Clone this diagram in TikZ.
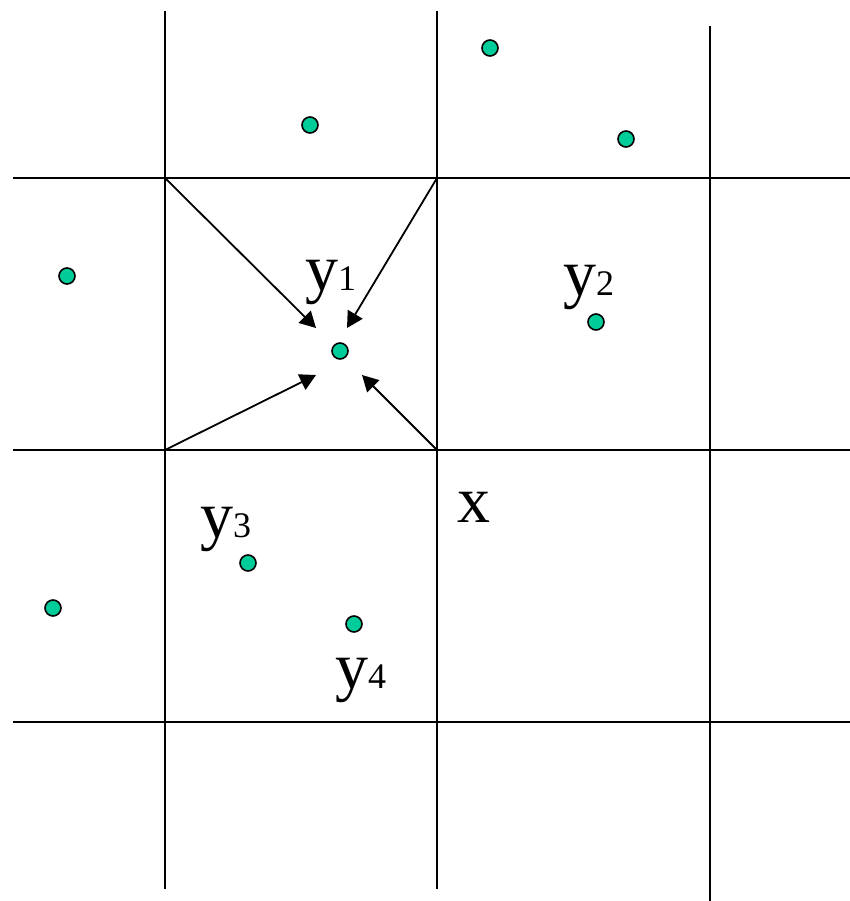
\documentclass[tikz,border=0pt]{standalone}
\usepackage{fontspec}
\setmainfont{Liberation Serif}
\usepackage{xcolor}
\usetikzlibrary{arrows.meta}

\definecolor{pointgreen}{RGB}{0,204,153}
\newcommand{\ylab}[1]{{\fontsize{66}{66}\selectfont y}{\fontsize{36}{36}\selectfont #1}}

\tikzset{
  gridline/.style={line width=2.4pt},
  pt/.style={circle, draw=black, line width=1.6pt, fill=pointgreen, minimum size=16pt, inner sep=0pt},
  lab/.style={anchor=base west, inner sep=0pt},
  pull/.style={line width=1.8pt, -{Triangle[length=16pt,width=17pt]}}
}

\begin{document}
\begin{tikzpicture}[x=1pt, y=-1pt]
	\useasboundingbox (0,0) rectangle (850,901);
	
	% grid
	\draw[gridline] (165,11) -- (165,889);
	\draw[gridline] (437,11) -- (437,889);
	\draw[gridline] (710,26) -- (710,901);
	\draw[gridline] (13,178) -- (850,178);
	\draw[gridline] (13,450) -- (850,450);
	\draw[gridline] (13,722) -- (850,722);
	
	% cell corners
	\coordinate (c11) at (165,178);
	\coordinate (c12) at (437,178);
	\coordinate (c21) at (165,450);
	\coordinate (c22) at (437,450);
	
	% points
	\node[pt] (p1) at (310,125) {};
	\node[pt] (p2) at (490,48) {};
	\node[pt] (p3) at (626,139) {};
	\node[pt] (p4) at (67,276) {};
	\node[pt] (y1) at (340,351) {};
	\node[pt] (y2) at (596,322) {};
	\node[pt] (y3) at (248,563) {};
	\node[pt] (p5) at (53,608) {};
	\node[pt] (y4) at (354,624) {};
	
	% labels
	\node[lab] (ly1) at (305,290) {\ylab{1}};
	\node[lab] (ly2) at (563,295) {\ylab{2}};
	\node[lab] (ly3) at (200,537) {\ylab{3}};
	\node[lab] (ly4) at (335,688) {\ylab{4}};
	\node[lab] (lx) at (457,522) {\fontsize{66}{66}\selectfont x};
	
	% arrows towards y1
	\coordinate (t1) at (316,328);
	\coordinate (t2) at (347,328);
	\coordinate (t3) at (316,375);
	\coordinate (t4) at (362,375);
	\draw[pull] (c11) -- (t1);
	\draw[pull] (c12) -- (t2);
	\draw[pull] (c21) -- (t3);
	\draw[pull] (c22) -- (t4);
\end{tikzpicture}
\end{document}
